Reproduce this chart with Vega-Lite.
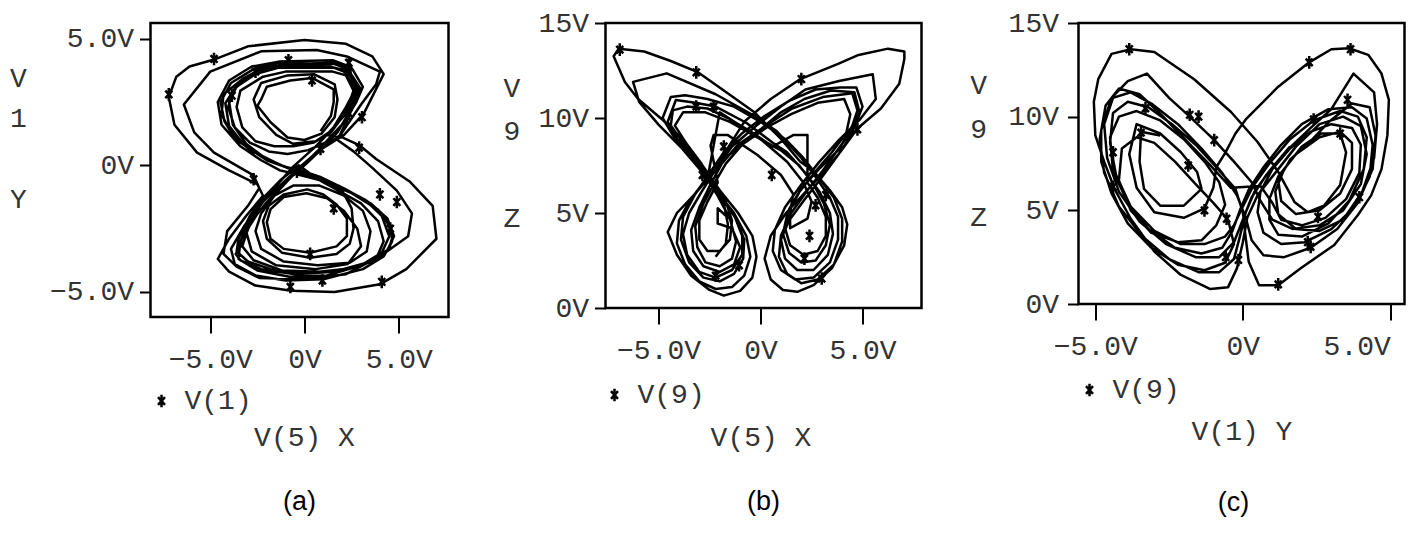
{
  "$schema": "https://vega.github.io/schema/vega-lite/v6.json",
  "background": "white",
  "padding": {"left": 5.5, "top": 7, "right": 4, "bottom": 4},
  "spacing": 157,
  "bounds": "flush",
  "config": {
    "view": {"stroke": "black", "strokeWidth": 2.5},
    "axis": {
      "domain": false, "grid": false, "tickColor": "black", "tickWidth": 2,
      "labelFont": "Liberation Mono", "labelFontSize": 28, "labelColor": "#333",
      "titleFont": "Liberation Mono", "titleFontSize": 28, "titleFontWeight": "normal", "titleColor": "#333"
    },
    "axisY": {"tickSize": 11, "labelPadding": 6, "titleAngle": 0, "titleAlign": "center", "titleBaseline": "top"},
    "axisX": {"tickSize": 16, "labelPadding": 12, "titleBaseline": "alphabetic"},
    "legend": {
      "orient": "none", "title": null, "padding": 0,
      "labelFont": "Liberation Mono", "labelFontSize": 28, "labelColor": "#333", "labelOffset": 9,
      "symbolStrokeColor": "black", "symbolStrokeWidth": 2.5, "symbolSize": 160, "symbolFillColor": "transparent"
    },
    "title": {"orient": "bottom", "frame": "group", "font": "Liberation Sans", "fontSize": 27, "fontWeight": "normal", "color": "black", "offset": 38}
  },
  "resolve": {"scale": {"shape": "independent"}, "legend": {"shape": "independent"}},
  "datasets": {
    "xy_path": [
      {"x":0.85,"y":1.35},{"x":1.4,"y":1.95},{"x":1.55,"y":2.5},{"x":1.55,"y":3.0},{"x":0.4,"y":3.45},{"x":-0.75,"y":3.35},{"x":-2.0,"y":3.1},{"x":-2.3,"y":2.6},{"x":-2.5,"y":2.35},{"x":-1.8,"y":1.7},{"x":-0.9,"y":1.1},{"x":0.0,"y":1.0},{"x":0.9,"y":1.25},
      {"x":1.6,"y":1.9},{"x":1.75,"y":2.6},{"x":1.6,"y":3.2},{"x":0.5,"y":3.6},{"x":-0.9,"y":3.55},{"x":-2.3,"y":3.25},{"x":-2.7,"y":2.6},{"x":-2.4,"y":1.9},{"x":-1.5,"y":1.2},{"x":-0.6,"y":0.85},{"x":0.6,"y":0.95},{"x":1.3,"y":1.3},
      {"x":2.4,"y":2.2},{"x":2.9,"y":3.0},{"x":2.3,"y":3.7},{"x":1.6,"y":3.85},{"x":-1.4,"y":3.85},{"x":-2.6,"y":3.6},{"x":-3.6,"y":3.1},{"x":-4.0,"y":2.5},{"x":-3.8,"y":1.6},{"x":-3.1,"y":0.85},
      {"x":-2.2,"y":0.35},{"x":-1.1,"y":-0.05},{"x":-0.2,"y":-0.2},{"x":0.8,"y":-0.45},{"x":2.2,"y":-0.95},{"x":3.5,"y":-1.5},{"x":4.4,"y":-2.1},{"x":4.75,"y":-2.8},{"x":4.4,"y":-3.35},{"x":3.3,"y":-3.85},{"x":1.55,"y":-4.2},{"x":-0.5,"y":-4.3},{"x":-2.3,"y":-4.1},{"x":-3.4,"y":-3.75},{"x":-3.65,"y":-3.5},
      {"x":-3.3,"y":-3.1},{"x":-2.85,"y":-2.25},{"x":-2.0,"y":-1.45},{"x":-1.1,"y":-0.75},{"x":-0.2,"y":-0.1},{"x":0.85,"y":0.6},{"x":1.75,"y":1.3},{"x":2.45,"y":2.2},{"x":3.0,"y":3.0},
      {"x":2.3,"y":3.8},{"x":1.6,"y":4.0},{"x":-1.4,"y":4.05},{"x":-2.7,"y":3.8},{"x":-3.9,"y":3.25},{"x":-4.45,"y":2.5},{"x":-4.25,"y":1.75},{"x":-3.7,"y":1.05},{"x":-2.4,"y":0.4},{"x":-1.2,"y":0.0},{"x":-0.3,"y":-0.25},
      {"x":0.9,"y":-0.55},{"x":2.0,"y":-1.0},{"x":2.5,"y":-1.7},{"x":2.6,"y":-2.5},{"x":2.4,"y":-3.1},{"x":1.7,"y":-3.5},{"x":0.3,"y":-3.65},{"x":-1.2,"y":-3.45},{"x":-2.0,"y":-2.9},{"x":-2.2,"y":-2.2},{"x":-1.9,"y":-1.6},{"x":-1.1,"y":-1.15},{"x":0.15,"y":-0.95},
      {"x":1.0,"y":-1.15},{"x":1.7,"y":-1.55},{"x":2.25,"y":-2.1},{"x":2.25,"y":-2.8},{"x":1.7,"y":-3.2},{"x":0.3,"y":-3.45},{"x":-1.1,"y":-3.3},{"x":-1.8,"y":-2.9},{"x":-2.0,"y":-2.25},{"x":-1.8,"y":-1.73},{"x":-1.1,"y":-1.25},{"x":0.1,"y":-1.1},
      {"x":1.2,"y":-1.3},{"x":2.1,"y":-1.8},{"x":2.8,"y":-2.5},{"x":3.0,"y":-3.2},{"x":2.3,"y":-3.9},{"x":0.6,"y":-4.1},{"x":-1.5,"y":-3.95},{"x":-2.8,"y":-3.4},{"x":-3.1,"y":-2.6},{"x":-2.6,"y":-1.8},{"x":-1.6,"y":-0.9},{"x":-0.6,"y":-0.05},
      {"x":0.6,"y":0.75},{"x":1.5,"y":1.45},{"x":2.2,"y":2.3},{"x":2.7,"y":3.0},{"x":2.1,"y":3.7},{"x":1.4,"y":3.9},{"x":-1.2,"y":3.95},{"x":-2.5,"y":3.75},{"x":-3.6,"y":3.15},{"x":-4.2,"y":2.45},{"x":-4.0,"y":1.55},{"x":-3.2,"y":0.8},
      {"x":-2.0,"y":0.2},{"x":-0.9,"y":-0.1},{"x":0.3,"y":-0.35},{"x":1.8,"y":-0.8},{"x":3.2,"y":-1.35},{"x":4.1,"y":-2.0},{"x":4.5,"y":-2.8},{"x":4.1,"y":-3.45},{"x":3.0,"y":-3.95},{"x":1.2,"y":-4.35},{"x":-0.8,"y":-4.4},{"x":-2.5,"y":-4.15},{"x":-3.5,"y":-3.7},
      {"x":-3.4,"y":-3.0},{"x":-2.9,"y":-2.15},{"x":-2.1,"y":-1.35},{"x":-1.1,"y":-0.7},{"x":0.0,"y":0.0},{"x":1.0,"y":0.7},{"x":1.9,"y":1.2},{"x":3.0,"y":2.4},{"x":3.8,"y":3.2},{"x":4.0,"y":3.7},
      {"x":2.25,"y":4.3},{"x":0.65,"y":4.55},{"x":-2.3,"y":4.5},{"x":-5.0,"y":3.7},{"x":-6.4,"y":2.4},{"x":-5.85,"y":1.3},{"x":-4.8,"y":0.5},{"x":-2.7,"y":-0.4},{"x":-2.4,"y":-0.9},{"x":-3.0,"y":-1.6},{"x":-4.1,"y":-2.6},{"x":-4.3,"y":-3.5},
      {"x":-3.6,"y":-4.0},{"x":-2.4,"y":-4.45},{"x":0.0,"y":-4.5},{"x":2.2,"y":-4.3},{"x":4.0,"y":-3.6},{"x":5.5,"y":-2.8},{"x":5.7,"y":-1.9},{"x":4.9,"y":-1.0},{"x":3.6,"y":-0.1},{"x":2.6,"y":0.55},{"x":1.75,"y":1.0},
      {"x":2.4,"y":2.0},{"x":2.7,"y":2.8},{"x":2.2,"y":3.55},{"x":1.5,"y":3.7},{"x":-1.0,"y":3.7},{"x":-2.2,"y":3.5},{"x":-3.4,"y":2.95},{"x":-3.6,"y":2.3},{"x":-3.3,"y":1.5},{"x":-2.6,"y":0.95},{"x":-1.6,"y":0.75},{"x":-0.6,"y":0.75},{"x":0.5,"y":0.9},{"x":1.4,"y":1.3},
      {"x":2.2,"y":2.1},{"x":2.6,"y":2.95},{"x":2.4,"y":3.9},{"x":1.5,"y":4.15},{"x":-1.3,"y":4.1},{"x":-2.8,"y":3.9},{"x":-4.0,"y":3.35},{"x":-4.6,"y":2.5},{"x":-4.4,"y":1.6},{"x":-3.4,"y":0.75},{"x":-2.3,"y":0.2},{"x":-1.3,"y":-0.2},{"x":-0.4,"y":-0.35},
      {"x":0.9,"y":-0.6},{"x":2.5,"y":-1.1},{"x":3.9,"y":-1.75},{"x":4.6,"y":-2.4},{"x":4.65,"y":-3.0},{"x":4.2,"y":-3.6},{"x":3.1,"y":-4.1},{"x":1.0,"y":-4.5},{"x":-1.0,"y":-4.55},{"x":-2.6,"y":-4.35},{"x":-3.7,"y":-3.9},{"x":-3.9,"y":-3.3},
      {"x":-3.2,"y":-2.4},{"x":-2.3,"y":-1.5},{"x":-1.3,"y":-0.8},{"x":-0.3,"y":-0.1},{"x":0.7,"y":0.55},{"x":2.1,"y":1.2},{"x":3.15,"y":2.05},{"x":4.2,"y":3.6},{"x":3.6,"y":4.3},{"x":2.2,"y":4.8},{"x":0.0,"y":4.95},{"x":-3.0,"y":4.7},
      {"x":-4.7,"y":4.2},{"x":-6.1,"y":3.9},{"x":-6.8,"y":3.5},{"x":-7.2,"y":2.7},{"x":-6.9,"y":1.6},{"x":-5.7,"y":0.5},{"x":-4.0,"y":-0.2},{"x":-2.5,"y":-0.75},{"x":-2.2,"y":-1.2},{"x":-3.1,"y":-2.0},{"x":-4.0,"y":-2.9},{"x":-4.6,"y":-3.7},
      {"x":-4.0,"y":-4.2},{"x":-2.6,"y":-4.75},{"x":-0.7,"y":-4.95},{"x":1.6,"y":-5.0},{"x":4.0,"y":-4.7},{"x":5.4,"y":-4.1},{"x":7.0,"y":-2.9},{"x":6.8,"y":-1.6},{"x":5.6,"y":-0.65},{"x":3.8,"y":0.25},{"x":2.9,"y":0.8},{"x":2.0,"y":1.1},{"x":1.2,"y":1.2},
      {"x":2.0,"y":1.9},{"x":2.55,"y":2.6},{"x":2.8,"y":3.1},{"x":2.2,"y":3.75},{"x":1.3,"y":3.9},{"x":-0.5,"y":3.95},{"x":-1.9,"y":3.8},{"x":-3.0,"y":3.5},{"x":-3.8,"y":2.95},{"x":-4.05,"y":2.3},{"x":-3.7,"y":1.5},{"x":-2.9,"y":0.9},{"x":-1.9,"y":0.55},{"x":-0.9,"y":0.45},{"x":0.2,"y":0.6},
      {"x":1.1,"y":0.9},{"x":2.1,"y":1.7},{"x":2.75,"y":2.5},{"x":3.1,"y":3.1},{"x":2.5,"y":3.85},{"x":1.8,"y":4.05},{"x":-0.8,"y":4.0},{"x":-2.2,"y":3.85},{"x":-3.3,"y":3.4},{"x":-4.3,"y":2.8},{"x":-4.4,"y":2.0},{"x":-3.9,"y":1.3},{"x":-2.9,"y":0.6},{"x":-1.7,"y":0.15},{"x":-0.6,"y":-0.2},
      {"x":0.6,"y":-0.5},{"x":1.9,"y":-0.85},{"x":3.3,"y":-1.4},{"x":4.2,"y":-2.0},{"x":4.7,"y":-2.7},{"x":4.5,"y":-3.3},{"x":3.6,"y":-3.8},{"x":2.0,"y":-4.15},{"x":0.0,"y":-4.25},{"x":-1.8,"y":-4.1},{"x":-3.0,"y":-3.8},{"x":-3.6,"y":-3.4},{"x":-3.5,"y":-2.9},
      {"x":-2.9,"y":-2.0},{"x":-2.2,"y":-1.3},{"x":-1.3,"y":-0.6},{"x":-0.3,"y":0.0},{"x":0.7,"y":-0.55},{"x":1.8,"y":-1.0},{"x":3.0,"y":-1.5},{"x":3.9,"y":-2.2},{"x":4.2,"y":-3.0},{"x":3.8,"y":-3.7},{"x":2.6,"y":-4.05},{"x":0.8,"y":-4.2},{"x":-1.2,"y":-4.15},
      {"x":-2.7,"y":-3.75},{"x":-3.3,"y":-3.2},{"x":-3.0,"y":-2.5},{"x":-2.4,"y":-1.8},{"x":-1.6,"y":-1.2},{"x":-0.6,"y":-0.8},{"x":0.8,"y":-0.8},{"x":2.1,"y":-1.2},{"x":3.1,"y":-1.8},{"x":3.5,"y":-2.6},{"x":3.3,"y":-3.4},{"x":2.4,"y":-3.85},{"x":0.7,"y":-3.95},
      {"x":-1.1,"y":-3.8},{"x":-2.3,"y":-3.3},{"x":-2.6,"y":-2.6},{"x":-2.3,"y":-1.9},{"x":-1.5,"y":-1.1},{"x":-0.5,"y":-0.3},{"x":0.6,"y":0.5},{"x":1.6,"y":1.2},{"x":2.3,"y":1.95},{"x":2.85,"y":2.75},{"x":2.6,"y":3.45}
    ],
    "xy_marks": [
      {"x":-4.8,"y":4.2,"s":"V(1)"},{"x":-0.85,"y":4.15,"s":"V(1)"},{"x":2.35,"y":4.05,"s":"V(1)"},{"x":-2.6,"y":3.7,"s":"V(1)"},{"x":-7.2,"y":2.8,"s":"V(1)"},
      {"x":-3.85,"y":2.75,"s":"V(1)"},{"x":0.4,"y":3.35,"s":"V(1)"},{"x":2.35,"y":2.05,"s":"V(1)"},{"x":3.05,"y":1.9,"s":"V(1)"},{"x":2.9,"y":0.7,"s":"V(1)"},
      {"x":0.85,"y":0.65,"s":"V(1)"},{"x":-0.4,"y":-0.25,"s":"V(1)"},{"x":-2.7,"y":-0.55,"s":"V(1)"},{"x":4.0,"y":-1.15,"s":"V(1)"},{"x":4.9,"y":-1.45,"s":"V(1)"},
      {"x":1.55,"y":-1.7,"s":"V(1)"},{"x":4.55,"y":-2.5,"s":"V(1)"},{"x":0.3,"y":-3.5,"s":"V(1)"},{"x":0.95,"y":-4.55,"s":"V(1)"},{"x":4.1,"y":-4.6,"s":"V(1)"},{"x":-0.75,"y":-4.8,"s":"V(1)"}
    ],
    "xz_path": [
      {"x":-1.55,"y":4.7},{"x":-2.1,"y":5.25},{"x":-2.1,"y":4.45},{"x":-1.4,"y":4.2},{"x":-1.0,"y":3.2},{"x":-1.3,"y":2.3},{"x":-2.0,"y":1.9},{"x":-2.8,"y":2.2},{"x":-3.3,"y":3.0},{"x":-3.4,"y":4.1},{"x":-3.0,"y":5.3},{"x":-2.5,"y":6.4},{"x":-1.9,"y":7.6},
      {"x":-1.1,"y":8.6},{"x":0.0,"y":9.4},{"x":1.0,"y":10.3},{"x":2.15,"y":11.0},{"x":3.45,"y":11.45},{"x":4.6,"y":11.35},{"x":4.85,"y":10.3},{"x":4.45,"y":9.1},{"x":3.8,"y":8.05},{"x":2.95,"y":6.8},{"x":2.15,"y":5.7},{"x":1.4,"y":4.6},
      {"x":1.0,"y":3.6},{"x":1.2,"y":2.6},{"x":1.8,"y":2.0},{"x":2.6,"y":2.0},{"x":3.3,"y":2.8},{"x":3.55,"y":3.9},{"x":3.4,"y":5.0},{"x":2.9,"y":6.1},{"x":2.2,"y":7.1},{"x":1.3,"y":8.2},{"x":0.6,"y":8.7},
      {"x":-0.7,"y":9.75},{"x":-2.2,"y":10.6},{"x":-3.2,"y":10.8},{"x":-4.15,"y":10.95},{"x":-4.55,"y":9.8},{"x":-4.1,"y":8.9},{"x":-3.4,"y":8.0},{"x":-2.7,"y":7.0},{"x":-2.0,"y":6.0},{"x":-1.3,"y":4.9},{"x":-0.9,"y":3.8},
      {"x":-0.9,"y":2.8},{"x":-1.4,"y":2.0},{"x":-2.2,"y":1.6},{"x":-3.0,"y":1.9},{"x":-3.6,"y":2.8},{"x":-3.8,"y":3.9},{"x":-3.5,"y":5.0},{"x":-2.9,"y":6.1},{"x":-2.2,"y":7.3},{"x":-1.4,"y":8.5},{"x":-0.2,"y":9.6},
      {"x":1.0,"y":10.6},{"x":2.2,"y":11.5},{"x":3.85,"y":11.95},{"x":5.5,"y":12.3},{"x":5.65,"y":11.0},{"x":4.85,"y":9.9},{"x":3.85,"y":8.85},{"x":2.85,"y":7.65},{"x":2.0,"y":6.5},{"x":1.2,"y":5.3},{"x":0.7,"y":4.1},
      {"x":0.6,"y":3.0},{"x":1.0,"y":2.0},{"x":1.7,"y":1.5},{"x":2.6,"y":1.6},{"x":3.4,"y":2.4},{"x":3.8,"y":3.6},{"x":3.8,"y":4.8},{"x":3.4,"y":5.8},{"x":2.7,"y":6.9},{"x":2.0,"y":7.9},{"x":0.8,"y":9.3},
      {"x":-0.2,"y":10.05},{"x":-2.2,"y":11.25},{"x":-4.6,"y":12.35},{"x":-6.25,"y":11.9},{"x":-5.95,"y":10.85},{"x":-5.0,"y":9.65},{"x":-3.85,"y":8.4},{"x":-2.9,"y":7.2},{"x":-2.1,"y":6.1},{"x":-1.3,"y":5.0},{"x":-0.7,"y":3.8},
      {"x":-0.5,"y":2.7},{"x":-0.8,"y":1.7},{"x":-1.4,"y":1.1},{"x":-2.2,"y":1.0},{"x":-3.0,"y":1.4},{"x":-3.7,"y":2.3},{"x":-4.1,"y":3.4},{"x":-4.0,"y":4.6},{"x":-3.5,"y":5.6},{"x":-2.8,"y":6.6},{"x":-2.1,"y":7.6},{"x":-1.5,"y":8.6},
      {"x":-0.8,"y":9.8},{"x":0.5,"y":11.0},{"x":1.95,"y":12.05},{"x":3.8,"y":12.85},{"x":4.75,"y":13.3},{"x":6.25,"y":13.65},{"x":7.05,"y":13.5},{"x":7.05,"y":13.1},{"x":6.8,"y":11.8},{"x":5.9,"y":10.5},{"x":4.75,"y":9.45},
      {"x":3.9,"y":8.2},{"x":3.0,"y":7.05},{"x":2.2,"y":6.1},{"x":1.25,"y":5.0},{"x":0.5,"y":3.8},{"x":0.2,"y":2.6},{"x":0.5,"y":1.5},{"x":1.1,"y":0.95},{"x":1.8,"y":0.85},{"x":2.6,"y":1.2},{"x":3.5,"y":2.1},{"x":4.1,"y":3.3},
      {"x":4.25,"y":4.4},{"x":4.0,"y":5.3},{"x":3.4,"y":6.2},{"x":2.6,"y":7.2},{"x":1.95,"y":7.7},{"x":1.0,"y":8.9},{"x":-0.3,"y":10.3},{"x":-1.8,"y":11.45},{"x":-3.05,"y":12.4},{"x":-4.4,"y":13.0},{"x":-5.7,"y":13.5},
      {"x":-6.95,"y":13.65},{"x":-7.2,"y":13.25},{"x":-6.65,"y":11.9},{"x":-6.0,"y":11.0},{"x":-4.85,"y":9.95},{"x":-3.7,"y":8.75},{"x":-2.75,"y":7.35},{"x":-2.0,"y":6.2},{"x":-1.1,"y":5.0},{"x":-0.4,"y":3.8},{"x":-0.2,"y":2.7},
      {"x":-0.4,"y":1.6},{"x":-1.0,"y":0.9},{"x":-1.8,"y":0.65},{"x":-2.5,"y":0.95},{"x":-3.4,"y":1.7},{"x":-4.1,"y":2.8},{"x":-4.55,"y":4.0},{"x":-4.1,"y":5.0},{"x":-3.3,"y":5.9},{"x":-2.5,"y":6.9},{"x":-1.6,"y":8.0},
      {"x":-0.6,"y":8.9},{"x":0.4,"y":9.7},{"x":1.55,"y":10.5},{"x":3.05,"y":11.1},{"x":4.5,"y":11.3},{"x":4.75,"y":10.4},{"x":4.5,"y":9.6},{"x":3.85,"y":8.35},{"x":2.85,"y":7.3},{"x":2.0,"y":6.3},{"x":1.4,"y":5.2},
      {"x":1.2,"y":4.2},{"x":1.45,"y":3.3},{"x":2.1,"y":2.8},{"x":2.8,"y":3.0},{"x":3.2,"y":3.8},{"x":3.2,"y":4.8},{"x":2.8,"y":5.8},{"x":2.3,"y":6.6},{"x":2.3,"y":7.85},{"x":2.3,"y":9.1},{"x":1.6,"y":9.1},{"x":0.6,"y":8.5},
      {"x":-0.5,"y":9.3},{"x":-1.6,"y":10.0},{"x":-2.6,"y":10.5},{"x":-3.6,"y":10.6},{"x":-4.3,"y":10.4},{"x":-4.4,"y":9.6},{"x":-3.8,"y":8.7},{"x":-3.0,"y":7.6},{"x":-2.3,"y":6.6},{"x":-1.7,"y":5.6},{"x":-1.4,"y":4.6},
      {"x":-1.5,"y":3.6},{"x":-2.0,"y":3.0},{"x":-2.6,"y":3.0},{"x":-3.0,"y":3.6},{"x":-3.0,"y":4.6},{"x":-2.6,"y":5.6},{"x":-2.1,"y":6.6},{"x":-2.45,"y":8.55},{"x":-2.3,"y":9.1},{"x":-1.6,"y":9.1},{"x":-0.15,"y":8.05},
      {"x":1.0,"y":7.0},{"x":1.6,"y":6.0},{"x":1.45,"y":5.0},{"x":1.45,"y":4.2},{"x":2.3,"y":4.7},{"x":2.5,"y":5.6},{"x":2.1,"y":6.6},
      {"x":1.3,"y":7.7},{"x":0.1,"y":8.8},{"x":-1.0,"y":9.6},{"x":-2.0,"y":10.3},{"x":-2.6,"y":6.8},{"x":-1.9,"y":5.8},{"x":-1.2,"y":4.7},{"x":-0.8,"y":3.6},{"x":-0.85,"y":2.6},{"x":-1.3,"y":1.8},{"x":-2.0,"y":1.4},
      {"x":-2.8,"y":1.6},{"x":-3.5,"y":2.4},{"x":-3.9,"y":3.6},{"x":-3.8,"y":4.8},{"x":-3.2,"y":6.0},{"x":-2.5,"y":7.1},{"x":-1.8,"y":8.2},{"x":-0.9,"y":9.2},{"x":0.2,"y":10.1},{"x":1.4,"y":10.9},{"x":2.7,"y":11.5},
      {"x":3.9,"y":11.6},{"x":4.7,"y":11.6},{"x":5.0,"y":10.6},{"x":4.6,"y":9.5},{"x":3.9,"y":8.5},{"x":3.1,"y":7.3},{"x":2.3,"y":6.2},{"x":1.5,"y":5.0},{"x":1.0,"y":3.8},{"x":0.9,"y":2.7},{"x":1.3,"y":1.8},{"x":2.0,"y":1.3},
      {"x":2.8,"y":1.5},{"x":3.6,"y":2.3},{"x":4.0,"y":3.5},{"x":4.0,"y":4.7},{"x":3.6,"y":5.8},{"x":2.9,"y":6.8},{"x":2.1,"y":7.9},{"x":1.2,"y":8.9},{"x":0.0,"y":9.8},{"x":-1.3,"y":10.6},{"x":-2.6,"y":11.0},{"x":-3.7,"y":11.2},
      {"x":-4.4,"y":11.1},{"x":-4.8,"y":10.0},{"x":-4.3,"y":9.1},{"x":-3.6,"y":8.2},{"x":-2.8,"y":7.1},{"x":-2.1,"y":5.9},{"x":-1.5,"y":4.7},{"x":-1.2,"y":3.5},{"x":-1.4,"y":2.6},{"x":-2.0,"y":2.2},{"x":-2.7,"y":2.4},
      {"x":-3.1,"y":3.2},{"x":-3.2,"y":4.3},{"x":-2.8,"y":5.5},{"x":-2.3,"y":6.5},{"x":-1.7,"y":7.6},{"x":-0.9,"y":8.6},{"x":0.3,"y":9.5},{"x":1.5,"y":10.2},{"x":2.8,"y":10.8},{"x":4.1,"y":11.0},{"x":4.4,"y":10.2},
      {"x":4.2,"y":9.2},{"x":3.5,"y":8.2},{"x":2.7,"y":7.2},{"x":1.9,"y":6.1},{"x":1.3,"y":4.9},{"x":1.1,"y":3.9},{"x":1.4,"y":2.9},{"x":2.0,"y":2.4},{"x":2.7,"y":2.5},{"x":3.2,"y":3.3},{"x":3.4,"y":4.4},{"x":3.1,"y":5.5},
      {"x":2.6,"y":6.5},{"x":1.9,"y":7.5},{"x":1.0,"y":8.3},{"x":-0.2,"y":9.0},{"x":-1.5,"y":9.8},{"x":-2.7,"y":10.3},{"x":-3.8,"y":10.3},{"x":-4.2,"y":9.6},{"x":-3.6,"y":8.6},{"x":-2.9,"y":7.6},{"x":-2.3,"y":6.6},
      {"x":-1.8,"y":5.5},{"x":-1.6,"y":4.4},{"x":-1.7,"y":3.4},{"x":-2.2,"y":2.7}
    ],
    "xz_marks": [
      {"x":-6.9,"y":13.6,"s":"V(9)"},{"x":-3.15,"y":12.4,"s":"V(9)"},{"x":2.0,"y":12.05,"s":"V(9)"},{"x":4.75,"y":9.4,"s":"V(9)"},{"x":-3.15,"y":10.6,"s":"V(9)"},
      {"x":-2.3,"y":10.6,"s":"V(9)"},{"x":-1.8,"y":8.5,"s":"V(9)"},{"x":-2.85,"y":7.0,"s":"V(9)"},{"x":0.55,"y":7.0,"s":"V(9)"},{"x":3.2,"y":5.95,"s":"V(9)"},
      {"x":2.7,"y":5.4,"s":"V(9)"},{"x":2.4,"y":3.8,"s":"V(9)"},{"x":2.15,"y":2.6,"s":"V(9)"},{"x":-1.05,"y":2.25,"s":"V(9)"},{"x":-2.2,"y":1.7,"s":"V(9)"},{"x":3.0,"y":1.55,"s":"V(9)"}
    ],
    "yz_path": [
      {"x":-2.8,"y":9.0},{"x":-3.45,"y":9.2},{"x":-3.5,"y":7.6},{"x":-3.35,"y":6.15},{"x":-2.8,"y":5.25},{"x":-2.0,"y":5.25},{"x":-1.4,"y":6.15},{"x":-1.55,"y":7.05},{"x":-2.1,"y":8.1},{"x":-2.8,"y":9.1},
      {"x":-3.6,"y":9.6},{"x":-3.85,"y":8.0},{"x":-3.6,"y":6.2},{"x":-3.0,"y":4.9},{"x":-2.0,"y":4.6},{"x":-1.3,"y":5.1},{"x":-1.0,"y":6.2},{"x":-0.9,"y":7.3},
      {"x":-0.6,"y":8.05},{"x":-0.25,"y":9.1},{"x":0.1,"y":9.85},{"x":1.2,"y":11.6},{"x":2.25,"y":12.9},{"x":3.0,"y":13.6},{"x":3.6,"y":13.65},{"x":4.25,"y":13.3},{"x":4.7,"y":12.3},{"x":4.95,"y":10.9},{"x":4.9,"y":9.0},
      {"x":4.7,"y":7.2},{"x":4.35,"y":5.8},{"x":3.9,"y":4.75},{"x":3.1,"y":3.15},{"x":1.95,"y":1.9},{"x":1.2,"y":1.0},{"x":0.55,"y":1.0},{"x":0.2,"y":2.25},{"x":0.1,"y":3.5},{"x":0.0,"y":4.9},{"x":-0.25,"y":6.15},
      {"x":-0.9,"y":7.3},{"x":-1.6,"y":8.5},{"x":-2.4,"y":9.6},{"x":-3.2,"y":10.5},{"x":-3.9,"y":10.8},{"x":-4.4,"y":10.2},{"x":-4.5,"y":8.6},{"x":-4.3,"y":6.9},{"x":-3.8,"y":5.2},{"x":-3.0,"y":3.9},{"x":-2.1,"y":3.2},
      {"x":-1.3,"y":3.2},{"x":-0.6,"y":3.6},{"x":-0.3,"y":4.2},{"x":0.0,"y":5.2},{"x":0.35,"y":6.3},{"x":0.9,"y":7.5},{"x":1.6,"y":8.8},{"x":2.4,"y":9.8},{"x":3.3,"y":10.3},{"x":3.9,"y":10.0},{"x":4.2,"y":8.9},
      {"x":4.1,"y":7.2},{"x":3.6,"y":5.5},{"x":2.9,"y":4.3},{"x":2.0,"y":3.6},{"x":1.2,"y":3.7},{"x":0.9,"y":4.5},{"x":0.9,"y":5.6},{"x":1.2,"y":6.8},{"x":1.8,"y":8.0},{"x":2.6,"y":8.9},{"x":3.3,"y":9.2},
      {"x":3.7,"y":8.6},{"x":3.7,"y":7.2},{"x":3.3,"y":5.9},{"x":2.6,"y":5.0},{"x":1.8,"y":4.8},{"x":1.3,"y":5.5},{"x":1.2,"y":6.6},{"x":1.6,"y":7.7},{"x":2.3,"y":8.7},{"x":2.9,"y":9.7},{"x":3.7,"y":10.7},
      {"x":4.3,"y":10.5},{"x":4.5,"y":9.0},{"x":4.4,"y":7.2},{"x":3.9,"y":5.4},{"x":3.2,"y":4.0},{"x":2.3,"y":3.0},{"x":1.4,"y":2.5},{"x":0.7,"y":2.6},{"x":0.3,"y":3.4},{"x":0.1,"y":4.6},{"x":-0.2,"y":5.8},
      {"x":-0.7,"y":7.0},{"x":-1.4,"y":8.3},{"x":-2.2,"y":9.6},{"x":-3.1,"y":10.7},{"x":-3.8,"y":11.3},{"x":-4.4,"y":11.0},{"x":-4.7,"y":9.6},{"x":-4.6,"y":7.8},{"x":-4.2,"y":6.0},{"x":-3.5,"y":4.4},{"x":-2.6,"y":3.2},
      {"x":-1.6,"y":2.5},{"x":-0.8,"y":2.5},{"x":-0.3,"y":3.3},{"x":0.0,"y":4.5},{"x":0.3,"y":5.7},{"x":0.8,"y":6.9},{"x":1.5,"y":8.2},{"x":2.3,"y":9.4},{"x":3.0,"y":10.4},{"x":3.75,"y":12.3},{"x":4.45,"y":11.3},
      {"x":4.55,"y":9.6},{"x":4.45,"y":7.8},{"x":4.05,"y":6.0},{"x":3.4,"y":4.5},{"x":2.6,"y":3.9},{"x":1.8,"y":4.0},{"x":1.2,"y":4.8},{"x":1.1,"y":6.0},{"x":1.4,"y":7.2},{"x":2.0,"y":8.4},{"x":2.65,"y":9.1},
      {"x":3.3,"y":9.1},{"x":3.5,"y":8.1},{"x":3.3,"y":6.35},{"x":2.75,"y":5.25},{"x":2.2,"y":4.9},{"x":1.75,"y":5.45},{"x":1.2,"y":7.05},{"x":0.5,"y":8.65},{"x":-0.4,"y":10.25},{"x":-1.65,"y":12.0},{"x":-3.0,"y":13.45},
      {"x":-3.8,"y":13.6},{"x":-4.45,"y":13.35},{"x":-4.9,"y":12.0},{"x":-5.05,"y":10.8},{"x":-5.0,"y":9.0},{"x":-4.7,"y":7.6},{"x":-4.35,"y":6.15},{"x":-3.8,"y":4.55},{"x":-3.0,"y":2.8},{"x":-2.1,"y":1.55},{"x":-1.1,"y":0.8},
      {"x":-0.5,"y":0.9},{"x":-0.2,"y":1.9},{"x":0.0,"y":3.3},{"x":0.15,"y":4.6},{"x":0.5,"y":5.8},{"x":1.1,"y":7.0},{"x":1.8,"y":8.4},{"x":2.6,"y":9.6},{"x":3.4,"y":10.0},{"x":4.0,"y":9.5},{"x":4.2,"y":8.0},
      {"x":4.0,"y":6.4},{"x":3.4,"y":5.0},{"x":2.6,"y":4.2},{"x":1.7,"y":4.0},{"x":1.0,"y":4.5},{"x":0.6,"y":5.5},{"x":0.3,"y":6.5},{"x":-0.3,"y":7.6},{"x":-1.0,"y":8.8},{"x":-1.8,"y":10.0},{"x":-2.5,"y":11.0},
      {"x":-3.25,"y":12.3},{"x":-3.9,"y":11.9},{"x":-4.45,"y":11.0},{"x":-4.8,"y":9.3},{"x":-4.8,"y":7.6},{"x":-4.45,"y":5.9},{"x":-3.9,"y":4.3},{"x":-3.1,"y":3.0},{"x":-2.2,"y":2.1},{"x":-1.3,"y":1.8},{"x":-0.6,"y":2.2},
      {"x":-0.3,"y":3.2},{"x":-0.5,"y":4.5},{"x":-1.0,"y":5.4},{"x":-1.6,"y":6.4},{"x":-2.3,"y":7.6},{"x":-3.0,"y":8.6},{"x":-3.6,"y":8.9},
      {"x":-4.1,"y":8.3},{"x":-4.2,"y":6.6},{"x":-3.8,"y":5.0},{"x":-3.1,"y":3.8},{"x":-2.2,"y":3.3},{"x":-1.4,"y":3.4},{"x":-0.9,"y":4.2},{"x":-0.6,"y":5.3},{"x":-0.8,"y":6.5},{"x":-1.3,"y":7.6},{"x":-2.0,"y":8.8},
      {"x":-2.8,"y":9.8},{"x":-3.6,"y":10.3},{"x":-4.2,"y":10.0},{"x":-4.5,"y":8.9},{"x":-4.4,"y":7.1},{"x":-3.9,"y":5.4},{"x":-3.2,"y":4.0},{"x":-2.3,"y":3.0},{"x":-1.4,"y":2.7},{"x":-0.7,"y":3.0},{"x":-0.35,"y":3.9},
      {"x":-0.1,"y":5.0},{"x":0.2,"y":6.1},{"x":0.7,"y":7.3},{"x":1.3,"y":8.5},{"x":2.0,"y":9.6},{"x":2.9,"y":10.4},{"x":3.7,"y":10.5},{"x":4.2,"y":9.9},{"x":4.4,"y":8.5},{"x":4.3,"y":6.8},{"x":3.8,"y":5.2},
      {"x":3.0,"y":4.0},{"x":2.1,"y":3.3},{"x":1.3,"y":3.2},{"x":0.7,"y":3.8},{"x":0.5,"y":4.9},{"x":0.6,"y":6.0},{"x":1.0,"y":7.2},{"x":1.6,"y":8.3},{"x":2.3,"y":9.2},{"x":3.0,"y":9.6},{"x":3.7,"y":9.4},
      {"x":4.0,"y":8.5},{"x":3.95,"y":7.0},{"x":3.5,"y":5.6},{"x":2.8,"y":4.6},{"x":2.0,"y":4.2},{"x":1.3,"y":4.5},{"x":1.0,"y":5.4},{"x":0.6,"y":6.3},{"x":-0.4,"y":6.2},{"x":-1.1,"y":7.4},{"x":-1.9,"y":8.7},
      {"x":-2.7,"y":10.0},{"x":-3.5,"y":11.2},{"x":-4.2,"y":11.5},{"x":-4.65,"y":10.6},{"x":-4.85,"y":8.8},{"x":-4.7,"y":7.0},{"x":-4.2,"y":5.2},{"x":-3.4,"y":3.6},{"x":-2.5,"y":2.4},{"x":-1.5,"y":1.7},{"x":-0.8,"y":1.7},
      {"x":-0.3,"y":2.4},{"x":-0.1,"y":3.6},{"x":0.1,"y":4.9},{"x":0.4,"y":6.0},{"x":0.9,"y":7.1},{"x":1.6,"y":8.4}
    ],
    "yz_marks": [
      {"x":-3.85,"y":13.6,"s":"V(9)"},{"x":-3.3,"y":10.45,"s":"V(9)"},{"x":-1.8,"y":10.1,"s":"V(9)"},{"x":-1.5,"y":10.0,"s":"V(9)"},{"x":-3.45,"y":9.15,"s":"V(9)"},
      {"x":-4.4,"y":8.1,"s":"V(9)"},{"x":-4.4,"y":6.25,"s":"V(9)"},{"x":-1.85,"y":7.4,"s":"V(9)"},{"x":-0.97,"y":8.75,"s":"V(9)"},{"x":-1.3,"y":5.0,"s":"V(9)"},
      {"x":-0.55,"y":4.55,"s":"V(9)"},{"x":-0.58,"y":2.5,"s":"V(9)"},{"x":-0.15,"y":2.35,"s":"V(9)"},{"x":1.2,"y":1.05,"s":"V(9)"},{"x":2.2,"y":3.3,"s":"V(9)"},
      {"x":2.3,"y":3.05,"s":"V(9)"},{"x":2.55,"y":4.65,"s":"V(9)"},{"x":3.95,"y":5.7,"s":"V(9)"},{"x":3.3,"y":9.1,"s":"V(9)"},{"x":3.55,"y":10.9,"s":"V(9)"},
      {"x":2.4,"y":9.85,"s":"V(9)"},{"x":2.25,"y":12.9,"s":"V(9)"},{"x":3.65,"y":13.6,"s":"V(9)"}
    ]
  },
  "hconcat": [
    {
      "width": 298, "height": 294,
      "title": {"text": "(a)"},
      "layer": [
        {
          "data": {"name": "xy_path"},
          "mark": {"type": "line", "color": "black", "strokeWidth": 2.5, "strokeJoin": "round"},
          "encoding": {
            "x": {"field": "x", "type": "quantitative", "title": "V(5) X",
                  "scale": {"domain": [-8.17, 7.64], "nice": false, "zero": false},
                  "axis": {"values": [-5, 0, 5], "labelExpr": "datum.value == 0 ? '0V' : format(datum.value, '.1f') + 'V'", "titleX": 153.5, "titleY": 128}},
            "y": {"field": "y", "type": "quantitative", "title": ["V", "1", "\u2800", "Y"],
                  "scale": {"domain": [-5.99, 5.62], "nice": false, "zero": false},
                  "axis": {"values": [-5, 0, 5], "labelExpr": "datum.value == 0 ? '0V' : format(datum.value, '.1f') + 'V'", "titleX": -132.5, "titleY": 41, "titleLineHeight": 40.5}},
            "order": {"value": null}
          }
        },
        {
          "data": {"name": "xy_marks"},
          "mark": {"type": "point", "filled": false, "stroke": "black", "strokeWidth": 2.5, "size": 160, "opacity": 1},
          "encoding": {
            "x": {"field": "x", "type": "quantitative", "title": "V(5) X"},
            "y": {"field": "y", "type": "quantitative", "title": ["V", "1", "\u2800", "Y"]},
            "shape": {"field": "s", "type": "nominal",
                      "scale": {"range": ["M0,-1L0,1M-0.55,-0.6L0.55,0.6M-0.55,0.6L0.55,-0.6"]},
                      "legend": {"legendX": -3, "legendY": 364}}
          }
        }
      ]
    },
    {
      "width": 316, "height": 285,
      "title": {"text": "(b)"},
      "layer": [
        {
          "data": {"name": "xz_path"},
          "mark": {"type": "line", "color": "black", "strokeWidth": 2.5, "strokeJoin": "round"},
          "encoding": {
            "x": {"field": "x", "type": "quantitative", "title": "V(5) X",
                  "scale": {"domain": [-7.6, 7.89], "nice": false, "zero": false},
                  "axis": {"values": [-5, 0, 5], "labelExpr": "datum.value == 0 ? '0V' : format(datum.value, '.1f') + 'V'", "titleX": 155, "titleY": 137}},
            "y": {"field": "y", "type": "quantitative", "title": ["V", "9", "\u2800", "Z"],
                  "scale": {"domain": [0, 15], "nice": false, "zero": false},
                  "axis": {"values": [0, 5, 10, 15], "labelExpr": "datum.value + 'V'", "titleX": -94.2, "titleY": 51, "titleLineHeight": 43.5}},
            "order": {"value": null}
          }
        },
        {
          "data": {"name": "xz_marks"},
          "mark": {"type": "point", "filled": false, "stroke": "black", "strokeWidth": 2.5, "size": 160, "opacity": 1},
          "encoding": {
            "x": {"field": "x", "type": "quantitative", "title": "V(5) X"},
            "y": {"field": "y", "type": "quantitative", "title": ["V", "9", "\u2800", "Z"]},
            "shape": {"field": "s", "type": "nominal",
                      "scale": {"range": ["M0,-1L0,1M-0.55,-0.6L0.55,0.6M-0.55,0.6L0.55,-0.6"]},
                      "legend": {"legendX": -5, "legendY": 358}}
          }
        }
      ]
    },
    {
      "width": 326, "height": 281,
      "title": {"text": "(c)", "dx": -8, "offset": 45},
      "layer": [
        {
          "data": {"name": "yz_path"},
          "mark": {"type": "line", "color": "black", "strokeWidth": 2.5, "strokeJoin": "round"},
          "encoding": {
            "x": {"field": "x", "type": "quantitative", "title": "V(1) Y",
                  "scale": {"domain": [-5.57, 5.48], "nice": false, "zero": false},
                  "axis": {"values": [-5, 0, 5], "labelExpr": "datum.value == 0 ? '0V' : format(datum.value, '.1f') + 'V'", "labelFlush": 15, "titleX": 163, "titleY": 135}},
            "y": {"field": "y", "type": "quantitative", "title": ["V", "9", "\u2800", "Z"],
                  "scale": {"domain": [0, 15], "nice": false, "zero": false},
                  "axis": {"values": [0, 5, 10, 15], "labelExpr": "datum.value + 'V'", "labelPadding": 9, "titleX": -100.3, "titleY": 48, "titleLineHeight": 44}},
            "order": {"value": null}
          }
        },
        {
          "data": {"name": "yz_marks"},
          "mark": {"type": "point", "filled": false, "stroke": "black", "strokeWidth": 2.5, "size": 160, "opacity": 1},
          "encoding": {
            "x": {"field": "x", "type": "quantitative", "title": "V(1) Y"},
            "y": {"field": "y", "type": "quantitative", "title": ["V", "9", "\u2800", "Z"]},
            "shape": {"field": "s", "type": "nominal",
                      "scale": {"range": ["M0,-1L0,1M-0.55,-0.6L0.55,0.6M-0.55,0.6L0.55,-0.6"]},
                      "legend": {"legendX": -3, "legendY": 353}}
          }
        }
      ]
    }
  ]
}
